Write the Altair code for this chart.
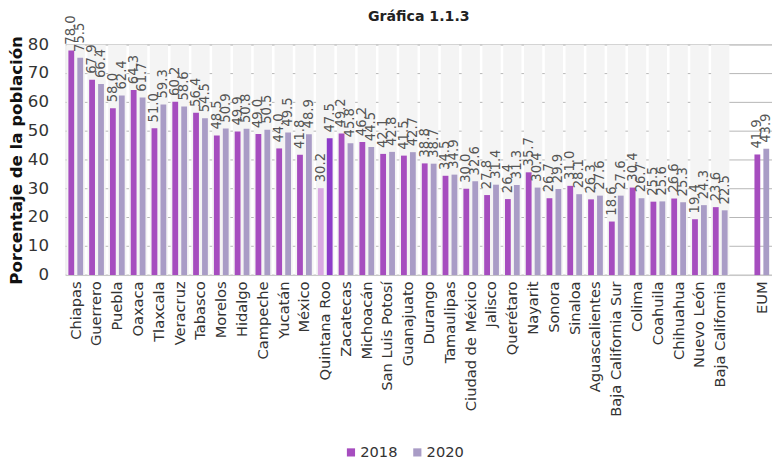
import altair as alt
import pandas as pd

states = ["Chiapas", "Guerrero", "Puebla", "Oaxaca", "Tlaxcala", "Veracruz", "Tabasco",
          "Morelos", "Hidalgo", "Campeche", "Yucatán", "México", "Quintana Roo", "Zacatecas",
          "Michoacán", "San Luis Potosí", "Guanajuato", "Durango", "Tamaulipas",
          "Ciudad de México", "Jalisco", "Querétaro", "Nayarit", "Sonora", "Sinaloa",
          "Aguascalientes", "Baja California Sur", "Colima", "Coahuila", "Chihuahua",
          "Nuevo León", "Baja California", " ", "EUM"]
v2018 = [78.0, 67.9, 58.0, 64.3, 51.0, 60.2, 56.4, 48.5, 49.9, 49.0, 44.0, 41.8, 30.2, 49.2,
         46.2, 42.1, 41.5, 38.8, 34.5, 30.0, 27.8, 26.4, 35.7, 26.7, 31.0, 26.3, 18.6, 30.4,
         25.5, 26.6, 19.4, 23.6, None, 41.9]
v2020 = [75.5, 66.4, 62.4, 61.7, 59.3, 58.6, 54.5, 50.9, 50.8, 50.5, 49.5, 48.9, 47.5, 45.8,
         44.5, 42.8, 42.7, 38.7, 34.9, 32.6, 31.4, 31.3, 30.4, 29.9, 28.1, 27.6, 27.6, 26.7,
         25.6, 25.3, 24.3, 22.5, None, 43.9]
years = ["2018", "2020"]
yticks = [0, 10, 20, 30, 40, 50, 60, 70, 80]
highlight = "Quintana Roo"

rows = []
for s, a, b in zip(states, v2018, v2020):
    for y, v in zip(years, [a, b]):
        if v is None:
            continue
        key = ("QR" + y) if s == highlight else y
        rows.append({"estado": s, "anio": y, "valor": v, "key": key, "lbl": f"{v:.1f}"})
df = pd.DataFrame(rows)

bands = pd.DataFrame({"estado": [s for s in states if s.strip() and s != "EUM"]})
grid = pd.DataFrame({"valor": yticks, "t": [str(v) for v in yticks]})

FONT = "DejaVu Sans"

xscale = alt.Scale(domain=states, paddingInner=0.12, paddingOuter=0.05)
xoff = alt.Scale(domain=years, paddingInner=0.35, paddingOuter=0.2)
yscale = alt.Scale(domain=[0, 80], nice=False)

x_axis = alt.Axis(title=None, labelAngle=270, labelAlign="right", labelBaseline="middle",
                  labelFontSize=15, labelColor="#333333", labelPadding=6, ticks=False,
                  domain=False, labelFont=FONT, labelOverlap=False, labelLimit=300)
y_axis = alt.Axis(title="Porcentaje de la población", values=yticks,
                  titleFontSize=17, titleFontWeight="bold", titleColor="#111111",
                  titleFont=FONT, labels=False, ticks=False, domain=False, grid=False,
                  titlePadding=41)

X = alt.X("estado:N", scale=xscale, sort=states, axis=x_axis)
Y = alt.Y("valor:Q", scale=yscale, axis=y_axis)

grid_layer = alt.Chart(grid).mark_rule(color="#b5b5b5", strokeWidth=1).encode(y=Y)

ytick_labels = alt.Chart(grid).mark_text(align="right", baseline="middle", dx=-17,
                                         fontSize=17, color="#333333", font=FONT).encode(
    x=alt.value(0), y=Y, text="t:N",
)

band_layer = alt.Chart(bands).mark_bar(color="#f4f4f4").encode(
    x=X, y=alt.value(0), y2=alt.value(236),
)

bars = alt.Chart(df).mark_bar().encode(
    x=X,
    xOffset=alt.XOffset("anio:N", scale=xoff),
    y=Y,
    color=alt.Color("key:N",
                    scale=alt.Scale(domain=["2018", "2020", "QR2018", "QR2020"],
                                    range=["#a64dbf", "#a99cc6", "#d9a9e2", "#8c3cc9"]),
                    legend=alt.Legend(title=None, values=["2018", "2020"], orient="none",
                                      direction="horizontal", legendX=285, legendY=410,
                                      symbolType="square", symbolSize=70,
                                      labelFontSize=15, labelFont=FONT, labelColor="#333333",
                                      columnPadding=12, labelOffset=2, symbolStrokeWidth=0)),
)

labels = alt.Chart(df).mark_text(angle=270, align="left", baseline="middle", dx=6,
                                 fontSize=13.5, color="#555555", font=FONT).encode(
    x=X,
    xOffset=alt.XOffset("anio:N", scale=xoff),
    y=Y,
    text="lbl:N",
)

chart = alt.layer(grid_layer, ytick_labels, band_layer, bars, labels).properties(
    width=724, height=236,
    title=alt.TitleParams("Gráfica 1.1.3", fontSize=14.5, fontWeight="bold", color="#222222",
                          font=FONT, anchor="middle", offset=-9, frame="group"),
    autosize=alt.AutoSizeParams(type="none"),
    padding={"left": 59, "top": 32, "right": 0, "bottom": 192},
).configure_view(stroke="#aaaaaa", strokeWidth=1).configure(background="white")

chart.save("out.html", embed_options={"renderer": "svg", "actions": False})
